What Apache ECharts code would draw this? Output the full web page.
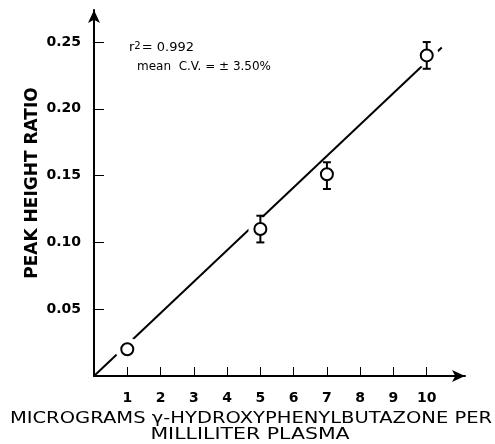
<!DOCTYPE html>
<html>
<head>
<meta charset="utf-8">
<script src="https://cdn.jsdelivr.net/npm/echarts@6/dist/echarts.min.js"></script>
<style>
  html, body { margin: 0; padding: 0; background: #fff; }
  #chart { width: 495px; height: 444px; }
</style>
</head>
<body>
<div id="chart"></div>
<script>
// data
var concentrations = [1, 5, 7, 10];
var peakRatios = [0.020, 0.110, 0.151, 0.240];
var errLow = [0.018, 0.100, 0.140, 0.230];
var errHigh = [0.022, 0.120, 0.160, 0.250];
var fitLine = [[0, 0], [10.45, 0.246]];
var xTicks = [1, 2, 3, 4, 5, 6, 7, 8, 9, 10];
var yTicks = [0.05, 0.10, 0.15, 0.20, 0.25];

var myChart = echarts.init(document.getElementById('chart'));

var points = concentrations.map(function (c, i) {
  return [c, peakRatios[i], errLow[i], errHigh[i]];
});

var font = 'DejaVu Sans';

var option = {
  backgroundColor: '#fff',
  animation: false,
  grid: { left: 94, right: 30, top: 10, bottom: 68 },
  xAxis: {
    type: 'value',
    min: 0,
    max: 11.15,
    axisLine: {
      show: true,
      symbol: ['none', 'arrow'],
      symbolSize: [9, 13],
      lineStyle: { color: '#000', width: 2 }
    },
    axisTick: {
      show: true, inside: true, length: 9,
      customValues: xTicks,
      lineStyle: { color: '#000', width: 1 }
    },
    axisLabel: {
      customValues: xTicks,
      color: '#000', fontFamily: font, fontWeight: 'bold', fontSize: 14, margin: 15
    },
    splitLine: { show: false }
  },
  yAxis: {
    type: 'value',
    min: 0,
    max: 0.274,
    axisLine: {
      show: true,
      symbol: ['none', 'arrow'],
      symbolSize: [9, 13],
      lineStyle: { color: '#000', width: 2 }
    },
    axisTick: {
      show: true, inside: true, length: 10,
      customValues: yTicks,
      lineStyle: { color: '#000', width: 1 }
    },
    axisLabel: {
      customValues: yTicks,
      formatter: function (v) { return v.toFixed(2); },
      color: '#000', fontFamily: font, fontWeight: 'bold', fontSize: 14, margin: 13
    },
    splitLine: { show: false }
  },
  graphic: [
    {
      type: 'text', x: 33, y: 183, rotation: Math.PI / 2,
      style: {
        text: 'PEAK HEIGHT RATIO', fill: '#000',
        x: 0, y: 0, align: 'center', verticalAlign: 'middle',
        fontFamily: font, fontWeight: 'bold', fontSize: 17
      }
    },
    {
      type: 'text', left: 129, top: 41,
      style: {
        text: '{r|r}{s|2}{r|= 0.992}',
        rich: {
          r: { fill: '#000', fontFamily: font, fontSize: 13, verticalAlign: 'bottom' },
          s: { fill: '#000', fontFamily: font, fontSize: 10, verticalAlign: 'top', padding: [0, 1, 0, 0] }
        }
      }
    },
    {
      type: 'text', left: 137, top: 61,
      style: { text: 'mean  C.V. = ± 3.50%', fill: '#000', fontFamily: font, fontSize: 12 }
    },
    {
      type: 'text', x: 251, y: 419, scaleX: 1.22,
      style: {
        text: 'MICROGRAMS γ-HYDROXYPHENYLBUTAZONE PER', fill: '#000',
        x: 0, y: 0, align: 'center', verticalAlign: 'middle',
        fontFamily: font, fontSize: 16
      }
    },
    {
      type: 'text', x: 250, y: 435, scaleX: 1.28,
      style: {
        text: 'MILLILITER PLASMA', fill: '#000',
        x: 0, y: 0, align: 'center', verticalAlign: 'middle',
        fontFamily: font, fontSize: 16
      }
    }
  ],
  series: [
    {
      type: 'line',
      data: fitLine,
      showSymbol: false,
      lineStyle: { color: '#000', width: 2 },
      z: 1
    },
    {
      type: 'custom',
      data: points,
      z: 5,
      renderItem: function (params, api) {
        var p = api.coord([api.value(0), api.value(1)]);
        var lo = api.coord([api.value(0), api.value(2)]);
        var hi = api.coord([api.value(0), api.value(3)]);
        var r = 6;
        var cap = 4;
        var st = { stroke: '#000', lineWidth: 2 };
        return {
          type: 'group',
          children: [
            // white gap where the fitted line is broken around each point
            { type: 'circle', shape: { cx: p[0], cy: p[1], r: 12 }, style: { fill: '#fff' } },
            { type: 'line', shape: { x1: p[0], y1: hi[1], x2: p[0], y2: lo[1] }, style: st },
            { type: 'line', shape: { x1: p[0] - cap, y1: hi[1], x2: p[0] + cap, y2: hi[1] }, style: st },
            { type: 'line', shape: { x1: p[0] - cap, y1: lo[1], x2: p[0] + cap, y2: lo[1] }, style: st },
            { type: 'circle', shape: { cx: p[0], cy: p[1], r: r }, style: { fill: '#fff', stroke: '#000', lineWidth: 2 } }
          ]
        };
      }
    }
  ]
};

myChart.setOption(option);
</script>
</body>
</html>
